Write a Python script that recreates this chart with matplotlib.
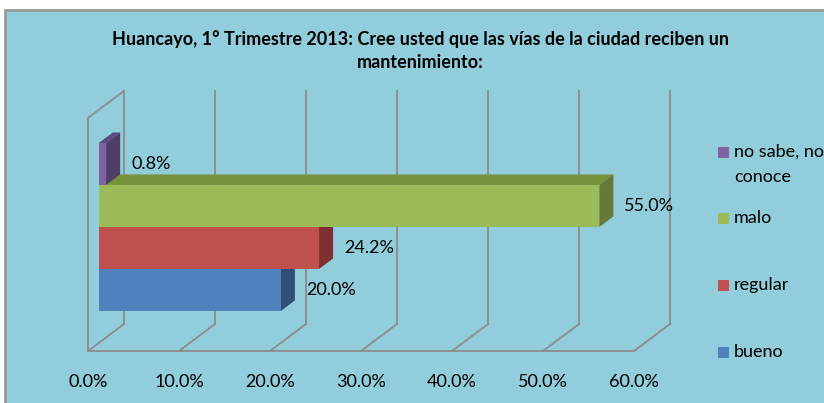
import matplotlib.pyplot as plt
from matplotlib.patches import Polygon, Rectangle

# Data (percent)
categories = ['bueno', 'regular', 'malo', 'no sabe, no\nconoce']
values = [20.0, 24.2, 55.0, 0.8]
value_labels = ['20.0%', '24.2%', '55.0%', '0.8%']
ticks = [0, 10, 20, 30, 40, 50, 60]
tick_labels = ['0.0%', '10.0%', '20.0%', '30.0%', '40.0%', '50.0%', '60.0%']

front_colors = ['#4F81BD', '#C0504D', '#9BBB59', '#8064A2']
top_colors = ['#3C6595', '#933C3A', '#77933C', '#5E4A7E']
side_colors = ['#2F4F78', '#7F3131', '#657A36', '#4F3E68']

bg = '#92CDDC'
grid_c = '#8C8C8C'
FS = 13

# oblique projection: depth z in [0, 1]
DX = 3.96   # percent units
DY = 0.643  # bar-height units
WALL_H = 5.55
Z0, Z1 = 0.3, 0.69
GAP = 0.76
PX = 9.1    # pixels per percent
PY = 42     # pixels per bar height


def proj(x, y, z):
    return (x + z * DX, y + z * DY)


fig = plt.figure(figsize=(8.24, 4.03), dpi=100)
fig.patch.set_facecolor('white')
ax = fig.add_axes([0, 0, 1, 1])
ax.set_xlim(-88 / PX, (824 - 88) / PX)
ax.set_ylim(-52 / PY, (403 - 52) / PY)
ax.axis('off')

# chart area background with grey border (runs past right/bottom edge)
ax.add_patch(Rectangle((0.006, -0.2), 1.3, 1.175, transform=ax.transAxes,
                       facecolor=bg, edgecolor='#9A9A9A', linewidth=2, zorder=0))

# back wall gridlines and floor lines
for t in ticks:
    bx, by0 = proj(t, 0, 1)
    _, by1 = proj(t, WALL_H, 1)
    ax.plot([bx, bx], [by0, by1], color=grid_c, lw=1.3, zorder=1)
    ax.plot([t, bx], [0, by0], color=grid_c, lw=1.3, zorder=1)
ax.plot([ticks[0], ticks[-1]], [0, 0], color=grid_c, lw=1.3, zorder=1)
# left wall
tx, ty = proj(0, WALL_H, 1)
ax.plot([0, 0, tx], [0, WALL_H, ty], color=grid_c, lw=1.3, zorder=1)

# 3D bars, drawn bottom to top
for i, (v, lab) in enumerate(zip(values, value_labels)):
    y0 = GAP + i
    y1 = y0 + 1
    f = [proj(0, y0, Z0), proj(v, y0, Z0), proj(v, y1, Z0), proj(0, y1, Z0)]
    top = [proj(0, y1, Z0), proj(v, y1, Z0), proj(v, y1, Z1), proj(0, y1, Z1)]
    side = [proj(v, y0, Z0), proj(v, y0, Z1), proj(v, y1, Z1), proj(v, y1, Z0)]
    z = 2 + i
    ax.add_patch(Polygon(top, closed=True, facecolor=top_colors[i], edgecolor='none', zorder=z))
    ax.add_patch(Polygon(side, closed=True, facecolor=side_colors[i], edgecolor='none', zorder=z))
    ax.add_patch(Polygon(f, closed=True, facecolor=front_colors[i], edgecolor='none', zorder=z))
    lx, ly = proj(v + 2.75, y0 + 0.5, Z0)
    ax.text(lx, ly, lab, ha='left', va='center', fontsize=FS,
            family='Lato', color='black', zorder=10)

# axis tick labels
for t, tl in zip(ticks, tick_labels):
    ax.text(t, -0.74, tl, ha='center', va='center', fontsize=FS,
            family='Lato', color='black')

# legend (top to bottom: last series first)
leg_y = [152, 218, 285, 352]
xd = (718 - 88) / PX
for k, i in enumerate(reversed(range(len(categories)))):
    yd = (403 - leg_y[k] - 52) / PY
    ax.add_patch(Rectangle((xd, yd - 5.5 / PY), 11 / PX, 11 / PY,
                           facecolor=front_colors[i], edgecolor='none', zorder=5))
    for j, line in enumerate(categories[i].split('\n')):
        ax.text(xd + 16 / PX, yd - j * 25 / PY, line, ha='left', va='center',
                fontsize=FS, family='Lato', color='black')

fig.text(0.51, 1 - 39 / 403, 'Huancayo, 1° Trimestre 2013: Cree usted que las vías de la ciudad reciben un',
         ha='center', va='center', fontsize=13, fontweight='bold', family='Lato')
fig.text(0.51, 1 - 63 / 403, 'mantenimiento:',
         ha='center', va='center', fontsize=13, fontweight='bold', family='Lato')

fig.savefig('out.png', dpi=100, facecolor='white')
